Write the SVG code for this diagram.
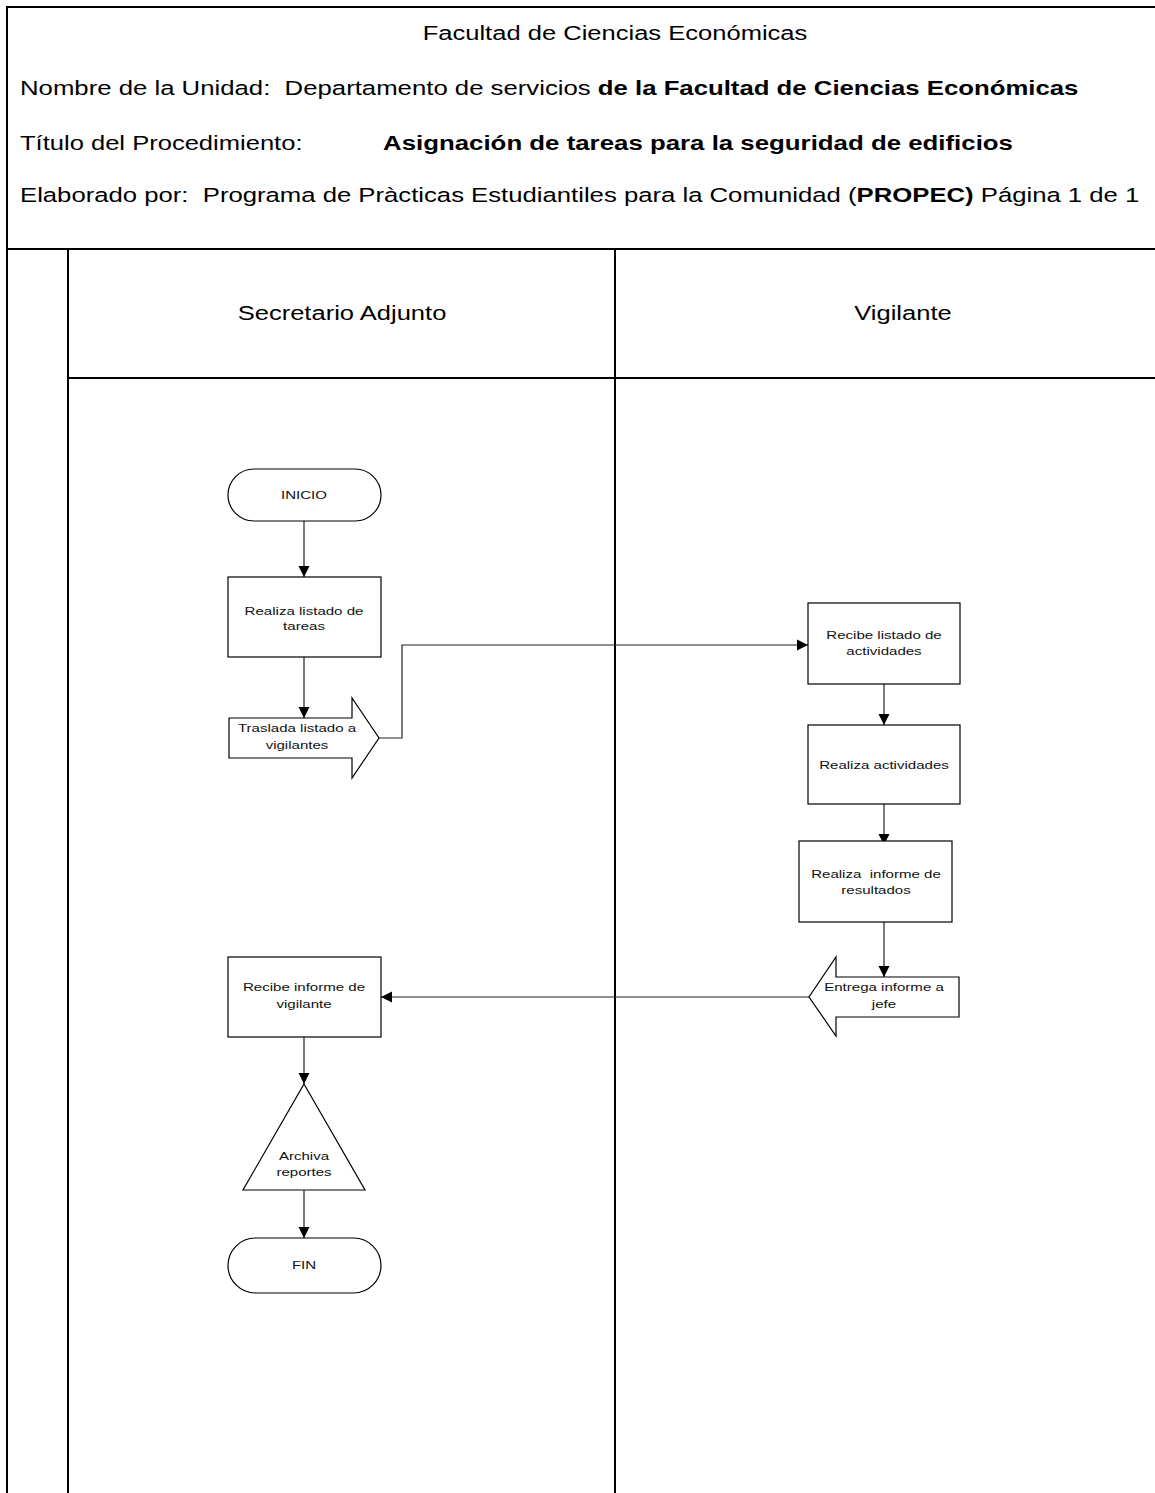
<svg xmlns="http://www.w3.org/2000/svg" width="1155" height="1493" viewBox="0 0 1155 1493">
<style>
  .frame { stroke: #000; stroke-width: 2; fill: none; }
  .shape { stroke: #000; stroke-width: 1.2; fill: #fff; }
  .conn { stroke: #222; stroke-width: 1.2; fill: none; }
  .hdr { font-family: "Liberation Sans", Arial, sans-serif; font-size: 19.5px; fill: #000; }
  .b { font-weight: bold; }
  .nt { font-family: "Liberation Sans", Arial, sans-serif; font-size: 11.5px; fill: #111; text-anchor: middle; }
</style>
<defs>
  <marker id="ah" markerUnits="userSpaceOnUse" markerWidth="12" markerHeight="12" refX="11" refY="5.5" orient="auto" viewBox="0 0 12 11">
    <path d="M0,0 L11,5.5 L0,11 z" fill="#000"/>
  </marker>
</defs>
<rect width="1155" height="1493" fill="#fff"/>

<g id="frame">
  <line class="frame" x1="7" y1="7" x2="1155" y2="7"/>
  <line class="frame" x1="7" y1="6" x2="7" y2="1493"/>
  <line class="frame" x1="7" y1="249" x2="1155" y2="249"/>
  <line class="frame" x1="68" y1="249" x2="68" y2="1493"/>
  <line class="frame" x1="615" y1="249" x2="615" y2="1493"/>
  <line class="frame" x1="68" y1="378" x2="1155" y2="378"/>
</g>

<g id="header">
  <text class="hdr" text-anchor="middle" transform="translate(615,40) scale(1.31,1)">Facultad de Ciencias Económicas</text>
  <text class="hdr" xml:space="preserve" transform="translate(20,95) scale(1.32,1)">Nombre de la Unidad:  Departamento de servicios <tspan class="b">de la Facultad de Ciencias Económicas</tspan></text>
  <text class="hdr" transform="translate(20,150) scale(1.31,1)">Título del Procedimiento:</text>
  <text class="hdr b" transform="translate(383,150) scale(1.325,1)">Asignación de tareas para la seguridad de edificios</text>
  <text class="hdr" xml:space="preserve" transform="translate(20,202) scale(1.318,1)">Elaborado por:  Programa de Pràcticas Estudiantiles para la Comunidad (<tspan class="b">PROPEC)</tspan> Página 1 de 1</text>
</g>

<g id="lanes">
  <text class="hdr" text-anchor="middle" transform="translate(342,320) scale(1.31,1)">Secretario Adjunto</text>
  <text class="hdr" text-anchor="middle" transform="translate(903,320) scale(1.31,1)">Vigilante</text>
</g>

<g id="connectors">
  <line class="conn" x1="304" y1="521" x2="304" y2="577" marker-end="url(#ah)"/>
  <line class="conn" x1="304" y1="657" x2="304" y2="718" marker-end="url(#ah)"/>
  <path class="conn" d="M379,738 H402 V645 H808" marker-end="url(#ah)"/>
  <line class="conn" x1="884" y1="684" x2="884" y2="725" marker-end="url(#ah)"/>
  <line class="conn" x1="884" y1="804" x2="884" y2="845" marker-end="url(#ah)"/>
  <line class="conn" x1="884" y1="922" x2="884" y2="977" marker-end="url(#ah)"/>
  <line class="conn" x1="809" y1="997" x2="381" y2="997" marker-end="url(#ah)"/>
  <line class="conn" x1="304" y1="1037" x2="304" y2="1084" marker-end="url(#ah)"/>
  <line class="conn" x1="304" y1="1190" x2="304" y2="1238" marker-end="url(#ah)"/>
</g>

<g id="inicio">
  <rect class="shape" x="228" y="469" width="153" height="52" rx="26" ry="26"/>
  <text class="nt" transform="translate(304,499) scale(1.31,1)">INICIO</text>
</g>

<g id="realiza-listado">
  <rect class="shape" x="228" y="577" width="153" height="80"/>
  <text class="nt" transform="translate(304,615) scale(1.31,1)">Realiza listado de</text>
  <text class="nt" transform="translate(304,630) scale(1.31,1)">tareas</text>
</g>

<g id="traslada">
  <polygon class="shape" points="229,718 352,718 352,698 379,738 352,778 352,758 229,758"/>
  <text class="nt" transform="translate(297,732) scale(1.31,1)">Traslada listado a</text>
  <text class="nt" transform="translate(297,749) scale(1.31,1)">vigilantes</text>
</g>

<g id="recibe-listado">
  <rect class="shape" x="808" y="603" width="152" height="81"/>
  <text class="nt" transform="translate(884,639) scale(1.31,1)">Recibe listado de</text>
  <text class="nt" transform="translate(884,655) scale(1.31,1)">actividades</text>
</g>

<g id="realiza-actividades">
  <rect class="shape" x="808" y="725" width="152" height="79"/>
  <text class="nt" transform="translate(884,769) scale(1.31,1)">Realiza actividades</text>
</g>

<g id="realiza-informe">
  <rect class="shape" x="799" y="841" width="153" height="81"/>
  <text class="nt" xml:space="preserve" transform="translate(876,878) scale(1.31,1)">Realiza  informe de</text>
  <text class="nt" transform="translate(876,894) scale(1.31,1)">resultados</text>
</g>

<g id="entrega">
  <polygon class="shape" points="959,977 836,977 836,957 809,997 836,1036 836,1017 959,1017"/>
  <text class="nt" transform="translate(884,991) scale(1.31,1)">Entrega informe a</text>
  <text class="nt" transform="translate(884,1008) scale(1.31,1)">jefe</text>
</g>

<g id="recibe-informe">
  <rect class="shape" x="228" y="957" width="153" height="80"/>
  <text class="nt" transform="translate(304,991) scale(1.31,1)">Recibe informe de</text>
  <text class="nt" transform="translate(304,1008) scale(1.31,1)">vigilante</text>
</g>

<g id="archiva">
  <polygon class="shape" points="304,1084 365,1190 243,1190"/>
  <text class="nt" transform="translate(304,1160) scale(1.31,1)">Archiva</text>
  <text class="nt" transform="translate(304,1176) scale(1.31,1)">reportes</text>
</g>

<g id="fin">
  <rect class="shape" x="228" y="1238" width="153" height="55" rx="27.5" ry="27.5"/>
  <text class="nt" transform="translate(304,1269) scale(1.31,1)">FIN</text>
</g>
</svg>
